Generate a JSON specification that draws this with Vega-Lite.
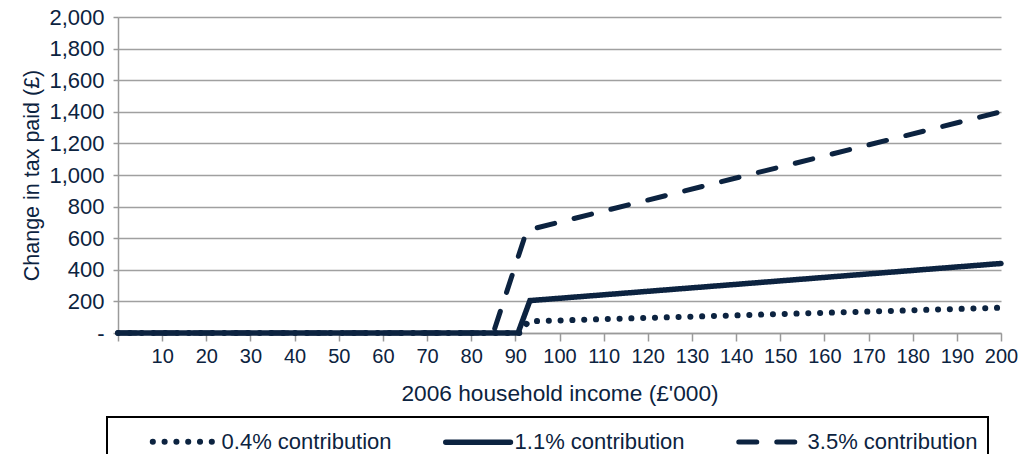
{
  "$schema": "https://vega.github.io/schema/vega-lite/v6.json",
  "width": 883,
  "height": 316,
  "autosize": {"type": "none"},
  "padding": {"left": 118, "top": 17, "right": 29, "bottom": 121},
  "background": "white",
  "config": {
    "font": "Liberation Sans",
    "view": {"stroke": null},
    "axis": {
      "labelFont": "Liberation Sans",
      "titleFont": "Liberation Sans",
      "labelColor": "#0c2340",
      "titleColor": "#0c2340",
      "titleFontWeight": "normal",
      "domainColor": "#9a9a9a",
      "domainWidth": 1.5,
      "tickColor": "#9a9a9a",
      "tickWidth": 1.5,
      "gridColor": "#a0a0a0",
      "gridWidth": 1.5
    },
    "legend": {
      "strokeColor": "#000000",
      "strokeWidth": 2,
      "labelFont": "Liberation Sans",
      "labelColor": "#0c2340"
    }
  },
  "data": {
    "values": [
      {"income": 0, "change": 0, "series": "0.4% contribution"},
      {"income": 91, "change": 0, "series": "0.4% contribution"},
      {"income": 93, "change": 74, "series": "0.4% contribution"},
      {"income": 200, "change": 160, "series": "0.4% contribution"},
      {"income": 0, "change": 0, "series": "1.1% contribution"},
      {"income": 90.6, "change": 0, "series": "1.1% contribution"},
      {"income": 93.3, "change": 205, "series": "1.1% contribution"},
      {"income": 200, "change": 440, "series": "1.1% contribution"},
      {"income": 0, "change": 0, "series": "3.5% contribution"},
      {"income": 85, "change": 0, "series": "3.5% contribution"},
      {"income": 92.6, "change": 650, "series": "3.5% contribution"},
      {"income": 200, "change": 1400, "series": "3.5% contribution"}
    ]
  },
  "mark": {"type": "line", "strokeCap": "round", "color": "#0c2340"},
  "encoding": {
    "x": {
      "field": "income",
      "type": "quantitative",
      "scale": {"domain": [0, 200], "nice": false},
      "axis": {
        "title": "2006 household income (£'000)",
        "titleFontSize": 22.7,
        "titlePadding": 16,
        "values": [0, 10, 20, 30, 40, 50, 60, 70, 80, 90, 100, 110, 120, 130, 140, 150, 160, 170, 180, 190, 200],
        "labelExpr": "datum.value == 0 ? '' : datum.label",
        "labelFontSize": 20,
        "labelPadding": 5,
        "tickSize": 8,
        "grid": false,
        "labelOverlap": false,
        "labelFlush": false
      }
    },
    "y": {
      "field": "change",
      "type": "quantitative",
      "scale": {"domain": [0, 2000], "nice": false},
      "axis": {
        "title": "Change in tax paid (£)",
        "titleFontSize": 21.5,
        "titlePadding": 5,
        "values": [0, 200, 400, 600, 800, 1000, 1200, 1400, 1600, 1800, 2000],
        "labelExpr": "datum.value == 0 ? '-' : format(datum.value, ',')",
        "labelFontSize": 22,
        "labelPadding": 9,
        "tickSize": 5,
        "grid": true,
        "labelOverlap": false,
        "labelFlush": false
      }
    },
    "strokeWidth": {
      "field": "series",
      "type": "nominal",
      "scale": {
        "domain": ["0.4% contribution", "1.1% contribution", "3.5% contribution"],
        "range": [6, 5, 5]
      },
      "legend": null
    },
    "strokeDash": {
      "field": "series",
      "type": "nominal",
      "scale": {
        "domain": ["0.4% contribution", "1.1% contribution", "3.5% contribution"],
        "range": [[0.1, 11.7], [1, 0], [18, 20]]
      },
      "legend": {
        "title": null,
        "orient": "none",
        "legendX": -11,
        "legendY": 400,
        "direction": "horizontal",
        "columns": 3,
        "columnPadding": 18,
        "padding": 10,
        "symbolType": "M-2.85,0H2.85",
        "symbolSize": 515,
        "symbolStrokeWidth": 5,
        "symbolStrokeColor": "#0c2340",
        "symbolFillColor": "transparent",
        "symbolOffset": 53.6,
        "labelOffset": 22,
        "labelFontSize": 22,
        "labelLimit": 400,
        "encode": {
          "symbols": {"update": {"strokeCap": {"value": "round"}}}
        }
      }
    },
    "order": {"field": "income", "type": "quantitative"}
  }
}
